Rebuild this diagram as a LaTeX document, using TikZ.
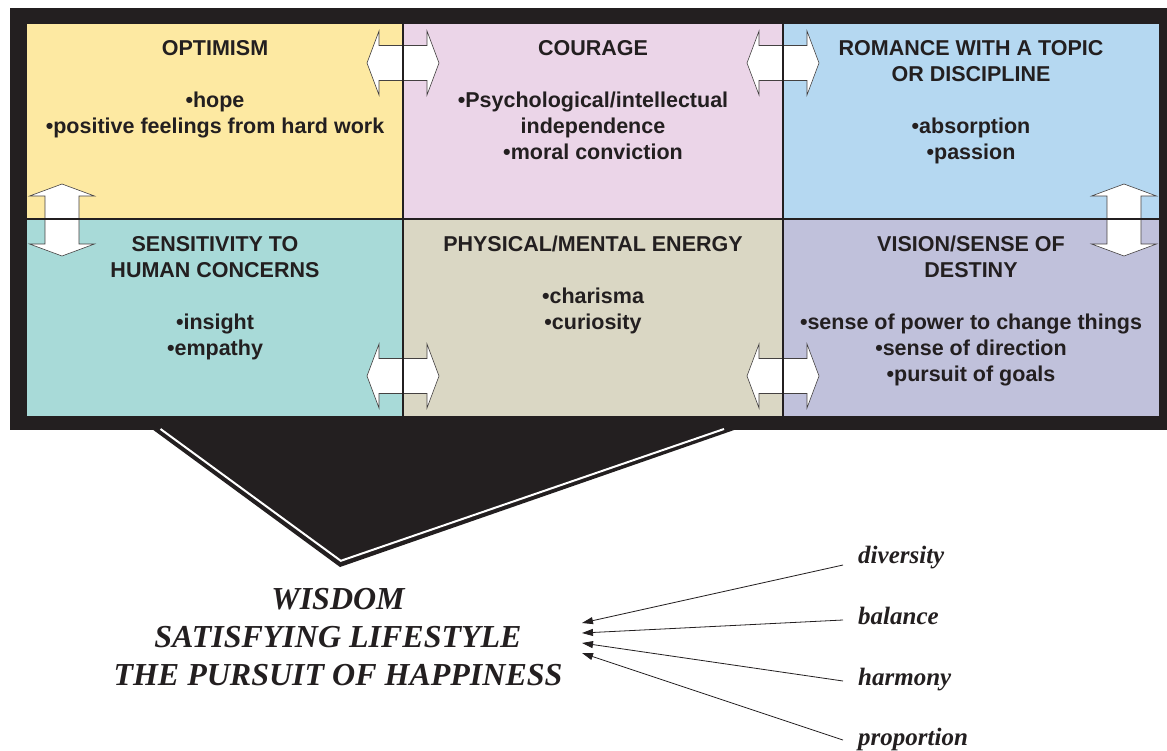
\documentclass[tikz,border=0pt]{standalone}
\usepackage{fontspec}
\newfontfamily\cellfont{Liberation Sans}
\newfontfamily\wisfont{Liberation Serif}
\usetikzlibrary{arrows.meta}
\definecolor{frameblack}{HTML}{231F20}
\definecolor{cyellow}{HTML}{FDE9A2}
\definecolor{cpink}{HTML}{EBD5E8}
\definecolor{cblue}{HTML}{B5D8F1}
\definecolor{cteal}{HTML}{A8DAD8}
\definecolor{cbeige}{HTML}{DAD7C4}
\definecolor{clav}{HTML}{C0C1DB}
\newcommand\tstrut{\rule{0pt}{20pt}}
\newcommand\wstrut{\rule{0pt}{28pt}}
\tikzset{
  cell/.style={draw=none, inner sep=0pt, minimum width=#1, minimum height=196pt, anchor=north west},
  cellline/.style={draw=frameblack, line width=1.2pt},
  celltext/.style={align=center, inner sep=0pt, anchor=north, text=frameblack, font=\cellfont\bfseries\fontsize{21.5}{26}\selectfont},
  dblarrow/.style={draw=frameblack!85, line width=0.6pt, fill=white},
  harrow/.pic={\path[dblarrow] (-36,0) -- (-24,-32) -- (-24,-17.5) -- (24,-17.5) -- (24,-32) -- (36,0) -- (24,32) -- (24,17.5) -- (-24,17.5) -- (-24,32) -- cycle;},
  varrow/.pic={\path[dblarrow] (0,-36) -- (-32.5,-24) -- (-17,-24) -- (-17,24) -- (-32.5,24) -- (0,36) -- (32.5,24) -- (17,24) -- (17,-24) -- (32.5,-24) -- cycle;},
  wistext/.style={align=center, inner sep=0pt, anchor=north, text=frameblack, font=\wisfont\bfseries\itshape\fontsize{32}{38}\selectfont},
  lbl/.style={inner sep=0pt, text=frameblack, font=\wisfont\bfseries\itshape\fontsize{25}{30}\selectfont},
  conn/.style={draw=frameblack, line width=0.8pt, -{Triangle[length=11pt,width=7pt]}}
}
\begin{document}
\begin{tikzpicture}[x=1pt,y=-1pt]
\useasboundingbox (0,0) rectangle (1167,750);
\fill[white] (0,0) rectangle (1167,750);
% frame
\fill[frameblack] (10,8) rectangle (1172,430);
% funnel
\fill[frameblack] (152,429) -- (340,567) -- (737,429) -- cycle;
\draw[white, line width=2pt] (160.5,429) -- (340.8,560.8) -- (724,429);
% cells
\node[cell=376pt, fill=cyellow] (c1) at (27,24) {};
\node[cell=380pt, fill=cpink] (c2) at (403,24) {};
\node[cell=376pt, fill=cblue] (c3) at (783,24) {};
\node[cell=376pt, fill=cteal, minimum height=197pt] (c4) at (27,219) {};
\node[cell=380pt, fill=cbeige, minimum height=197pt] (c5) at (403,219) {};
\node[cell=376pt, fill=clav, minimum height=197pt] (c6) at (783,219) {};
% double arrows
\pic at (403,63) {harrow};
\pic at (783,63) {harrow};
\pic at (403,376) {harrow};
\pic at (783,376) {harrow};
\pic at (62,220) {varrow};
\pic at (1124,220) {varrow};
% cell boundaries
\draw[cellline] (403,24) -- (403,416);
\draw[cellline] (783,24) -- (783,416);
\draw[cellline] (27,219) -- (1159,219);
% cell texts (first baseline = y + 20)
\node[celltext] (t1) at (215,35) {\tstrut OPTIMISM\\[26pt]•hope\\•positive feelings from hard work};
\node[celltext] (t2) at (593,35) {\tstrut COURAGE\\[26pt]•Psychological/intellectual\\independence\\•moral conviction};
\node[celltext] (t3) at (971,35) {\tstrut ROMANCE WITH A TOPIC\\OR DISCIPLINE\\[26pt]•absorption\\•passion};
\node[celltext] (t4) at (215,231) {\tstrut SENSITIVITY TO\\HUMAN CONCERNS\\[26pt]•insight\\•empathy};
\node[celltext] (t5) at (593,231) {\tstrut PHYSICAL/MENTAL ENERGY\\[26pt]•charisma\\•curiosity};
\node[celltext] (t6) at (971,231) {\tstrut VISION/SENSE OF\\DESTINY\\[26pt]•sense of power to change things\\•sense of direction\\•pursuit of goals};
% bottom text (first baseline = y + 28)
\node[wistext] (wis) at (338,581) {\wstrut WISDOM\\SATISFYING LIFESTYLE\\THE PURSUIT OF HAPPINESS};
% labels
\node[lbl, anchor=base west] (div) at (858,563) {diversity};
\node[lbl, anchor=base west] (bal) at (858,624) {balance};
\node[lbl, anchor=base west] (har) at (858,685) {harmony};
\node[lbl, anchor=base west] (pro) at (858,745) {proportion};
\coordinate (s1) at (843,565);
\coordinate (s2) at (843,620);
\coordinate (s3) at (843,681);
\coordinate (s4) at (843,740);
\coordinate (e1) at (582,623);
\coordinate (e2) at (582,633);
\coordinate (e3) at (582,643);
\coordinate (e4) at (582,653);
\draw[conn] (s1) -- (e1);
\draw[conn] (s2) -- (e2);
\draw[conn] (s3) -- (e3);
\draw[conn] (s4) -- (e4);
\end{tikzpicture}
\end{document}
